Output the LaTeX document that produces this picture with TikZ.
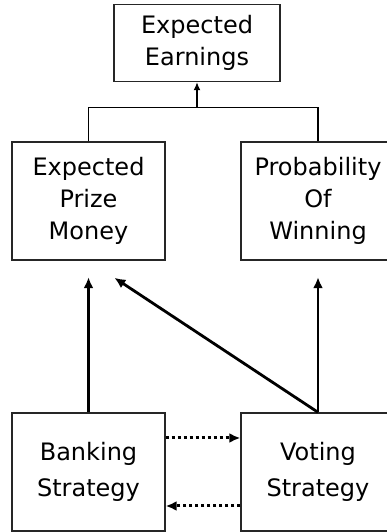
\documentclass[tikz,border=0pt]{standalone}
\usepackage{fontspec}
\setmainfont{DejaVu Sans}
\usetikzlibrary{arrows.meta}
\tikzstyle{block} = [rectangle, draw=black!85, line width=1.4pt, align=center, inner sep=0pt, font=\fontsize{24}{32}\selectfont]
\tikzstyle{tree} = [draw, line width=1.4pt]
\tikzstyle{line} = [draw, line width=2.8pt, -{Latex[length=11pt,width=10pt]}]
\tikzstyle{dotline} = [draw, line width=3pt, dash pattern=on 3pt off 3pt, -{Latex[length=11pt,width=10pt]}]

\begin{document}
\begin{tikzpicture}[x=1pt, y=1pt]
	\useasboundingbox (0,0) rectangle (387,532);
	\clip (0,0) rectangle (387,532);
	\node[block, minimum width=166pt, minimum height=77pt] (earn) at (197,489) {Expected\\Earnings};
	\node[block, minimum width=153pt, minimum height=118pt] (prize) at (88.5,331) {Expected\\Prize\\Money};
	\node[block, minimum width=154pt, minimum height=118pt] (prob) at (318,331) {Probability\\Of\\Winning};
	\node[block, minimum width=153pt, minimum height=118pt, font=\fontsize{24}{36}\selectfont] (bank) at (88.5,60) {Banking\\Strategy};
	\node[block, minimum width=154pt, minimum height=118pt, font=\fontsize{24}{36}\selectfont] (vote) at (318,60) {Voting\\Strategy};
	\coordinate (top) at ([yshift=-25.5pt]earn.south);
	
	\path[tree] (prize.north) |- (top) -| (prob.north);
	\path[tree, -{Latex[length=8pt,width=7pt]}] (top) -- (earn.south);
	\path[line, shorten >=16.5pt] (bank) -- (prize);
	\path[line, shorten >=16.5pt] (vote) -- (prob);
	\path[line, shorten >=31pt] (vote.north) -- (prize.south);
	\path[dotline] ([yshift=34pt]bank.east) -- ([yshift=34pt]vote.west);
	\path[dotline] ([yshift=-34pt]vote.west) -- ([yshift=-34pt]bank.east);
\end{tikzpicture}
\end{document}
